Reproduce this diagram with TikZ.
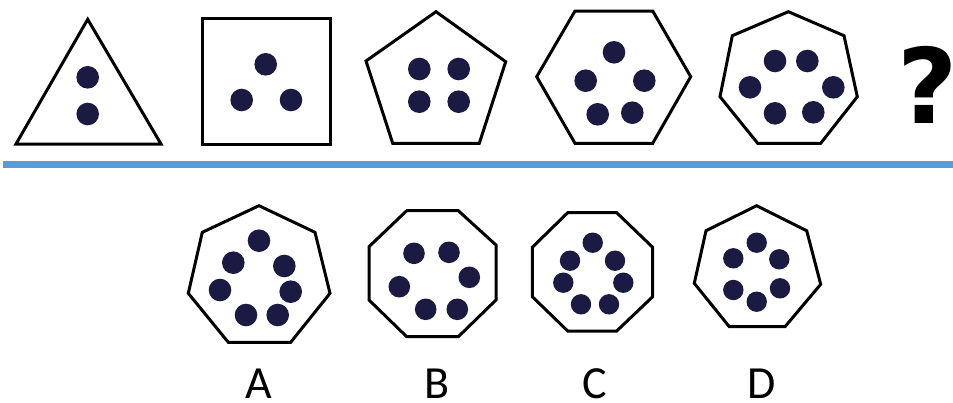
\documentclass[tikz,border=0pt]{standalone}
\usepackage{fontspec}
\newfontfamily\labelfont{Carlito}
\newfontfamily\qfont{DejaVu Sans}
\definecolor{dotc}{RGB}{26,26,66}
\definecolor{linec}{RGB}{91,155,213}
\tikzset{
  shapeline/.style={draw=black, line width=3pt, line join=miter},
  bigdot/.style={fill=dotc},
  optlabel/.style={font=\labelfont\fontsize{46}{46}\selectfont, inner sep=0pt, anchor=base}
}
\begin{document}
\begin{tikzpicture}[x=1pt,y=-1pt]
\useasboundingbox[fill=white] (0,0) rectangle (953,402);
% top row
\draw[shapeline] (87.7,19.3) -- (161,144) -- (16,144) -- cycle;
\fill[bigdot] (87.7,77.3) circle (11.3);
\fill[bigdot] (87.7,114) circle (11.3);

\draw[shapeline] (202.7,18.3) rectangle (330,144);
\fill[bigdot] (265.7,64.3) circle (11.3);
\fill[bigdot] (241.7,100) circle (11.3);
\fill[bigdot] (291,100) circle (11.3);

\draw[shapeline] (436,11.7) -- (505.7,61.7) -- (479.3,143.3) -- (392.7,143.3) -- (366,61) -- cycle;
\fill[bigdot] (419.3,69) circle (11.3);
\fill[bigdot] (458.7,69) circle (11.3);
\fill[bigdot] (419.3,101.7) circle (11.3);
\fill[bigdot] (458.7,101.7) circle (11.3);

\draw[shapeline] (575,11) -- (652.7,11) -- (690.7,76.7) -- (652.7,143.3) -- (575,143.3) -- (536.7,76.7) -- cycle;
\fill[bigdot] (614,52.3) circle (11.3);
\fill[bigdot] (585.7,80.7) circle (11.3);
\fill[bigdot] (644.3,80.7) circle (11.3);
\fill[bigdot] (597.7,114.3) circle (11.3);
\fill[bigdot] (632.3,112.7) circle (11.3);

\draw[shapeline] (788.3,11.7) -- (844,35.7) -- (857.3,96.7) -- (820.7,143.3) -- (757.7,143.3) -- (720,96.7) -- (732.3,35.7) -- cycle;
\fill[bigdot] (775,61) circle (11.3);
\fill[bigdot] (807.3,61) circle (11.3);
\fill[bigdot] (750,87.3) circle (11.3);
\fill[bigdot] (833.3,87.3) circle (11.3);
\fill[bigdot] (775,113.3) circle (11.3);
\fill[bigdot] (813.3,112.3) circle (11.3);

\node[font=\qfont\bfseries\fontsize{104}{104}\selectfont, inner sep=0pt, anchor=base] (q) at (927.5,123.3) {?};

% separator
\coordinate (ls) at (3,164.3);
\coordinate (le) at (953,164.3);
\draw[linec, line width=7pt] (ls) -- (le);

% options
\draw[shapeline] (259,205.7) -- (315,232.3) -- (330,293.3) -- (290.7,342.3) -- (228.3,342.3) -- (188.3,293.3) -- (202.3,232.3) -- cycle;
\fill[bigdot] (259,240.7) circle (11.3);
\fill[bigdot] (233.3,262.7) circle (11.3);
\fill[bigdot] (284.3,266) circle (11.3);
\fill[bigdot] (220,290) circle (11.3);
\fill[bigdot] (290.7,291.7) circle (11.3);
\fill[bigdot] (246,315) circle (11.3);
\fill[bigdot] (277.7,315) circle (11.3);

\draw[shapeline] (406.7,210.7) -- (458.3,210.7) -- (496,245) -- (496,300) -- (458.3,336.7) -- (406.7,336.7) -- (369,300) -- (369,246.7) -- cycle;
\fill[bigdot] (414,253.3) circle (10.8);
\fill[bigdot] (449,252.3) circle (10.8);
\fill[bigdot] (469.3,277.3) circle (10.8);
\fill[bigdot] (399.3,286.7) circle (10.8);
\fill[bigdot] (425.7,309.3) circle (10.8);
\fill[bigdot] (457.3,309.3) circle (10.8);

\draw[shapeline] (567.7,212.7) -- (616.7,212.7) -- (652.7,247.3) -- (652.7,296.7) -- (616.7,331) -- (567.7,331) -- (532.3,296.7) -- (532.3,247.3) -- cycle;
\fill[bigdot] (592.7,242.7) circle (10.2);
\fill[bigdot] (570,260.7) circle (10.2);
\fill[bigdot] (615,260.7) circle (10.2);
\fill[bigdot] (563.3,282.7) circle (10.2);
\fill[bigdot] (623.3,282.7) circle (10.2);
\fill[bigdot] (581,304.3) circle (10.2);
\fill[bigdot] (609,304.3) circle (10.2);

\draw[shapeline] (756.7,205.7) -- (806.7,230.7) -- (820.7,284.3) -- (785,326.7) -- (729.3,326.7) -- (694.3,283.3) -- (706,230.7) -- cycle;
\fill[bigdot] (756.7,242.7) circle (10.2);
\fill[bigdot] (733.3,258.3) circle (10.2);
\fill[bigdot] (779.3,259.3) circle (10.2);
\fill[bigdot] (733.3,290) circle (10.2);
\fill[bigdot] (780,288.3) circle (10.2);
\fill[bigdot] (756.7,301.7) circle (10.2);

\node[optlabel] (la) at (259,398) {A};
\node[optlabel] (lb) at (436.7,398) {B};
\node[optlabel] (lc) at (594.3,398) {C};
\node[optlabel] (ld) at (761.7,398) {D};
\end{tikzpicture}
\end{document}
